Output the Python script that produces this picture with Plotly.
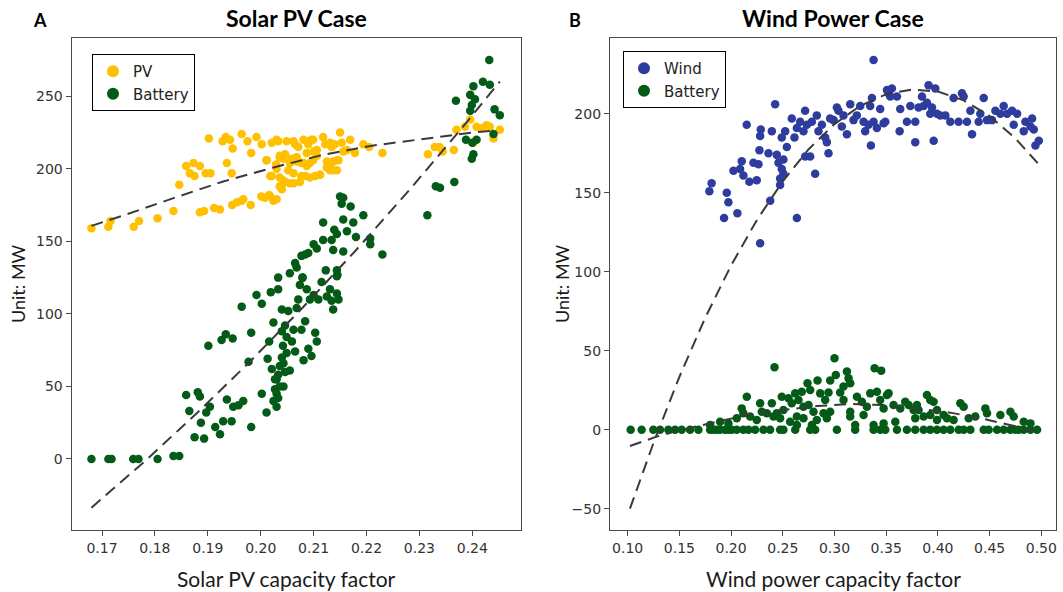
import plotly.graph_objects as go

# ---------------- Panel A: Solar PV case ----------------
pv_x = [0.1680,0.1712,0.1716,0.1760,0.1770,0.1805,0.1835,0.1846,0.1859,0.1866,
        0.1873,0.1875,0.1885,0.1885,0.1893,0.1896,0.1905,0.1902,0.1912,0.1923,
        0.1928,0.1934,0.1936,0.1942,0.1945,0.1946,0.1947,0.1955,0.1964,0.1964,
        0.1967,0.1975,0.1981,0.1982,0.1992,0.2001,0.2002,0.2008,0.2011,0.2016,
        0.2021,0.2018,0.2024,0.2029,0.2033,0.2036,0.2036,0.2040,0.2043,0.2046,
        0.2049,0.2052,0.2055,0.2059,0.2062,0.2065,0.2068,0.2071,0.2074,0.2077,
        0.2081,0.2084,0.2087,0.2090,0.2093,0.2096,0.2100,0.2103,0.2106,0.2112,
        0.2118,0.2122,0.2125,0.2128,0.2131,0.2134,0.2137,0.2140,0.2144,0.2147,
        0.2150,0.2153,0.2156,0.2163,0.2169,0.2178,0.2194,0.2205,0.2230,0.2316,
        0.2329,0.2338,0.2344,0.2365,0.2370,0.2386,0.2396,0.2402,0.2408,0.2418,
        0.2427,0.2433,0.2440,0.2452,
        0.2011,0.2021,0.2030,0.2036,0.2043,0.2046,0.2055,0.2062,0.2068,0.2077,
        0.2081,0.2087,0.2093,0.2099,0.2106,0.2112,0.2125,0.2131,0.2137,0.2144,
        0.2030,0.2062,0.2087,0.2099,0.2131,0.2018,0.2030,0.2036,0.2046]
pv_y = [159,160,164,160,164,166,171,189,202,197,
        204,195,202,170,171,197,197,221,173,172,
        219,222,204,220,197,175,214,177,178,224,
        179,219,175,211,222,181,217,180,206,182,
        218,195,178,203,219,209,194,186,207,191,
        219,199,190,207,197,217,205,215,191,204,
        220,195,211,217,204,220,212,195,209,196,
        222,217,201,203,199,215,205,217,199,206,
        225,218,212,213,220,211,217,215,211,210,
        215,215,212,213,227,229,234,218,229,228,
        230,229,221,227,
        206,195,200,208,192,210,204,190,208,195,
        204,202,194,206,213,196,205,202,199,206,
        220,219,219,220,218,181,179,188,191]

bat_a_x = [0.2432,0.2420,0.2433,0.2402,0.2396,0.2405,0.2369,0.2399,0.2396,0.2442,
           0.2452,0.2388,0.2408,0.2400,0.2402,0.2399,0.2440,0.2366,0.2331,0.2339,
           0.2315,0.2207,0.2207,0.2230,0.2150,0.2156,0.2153,0.2170,0.2194,0.2156,
           0.2175,0.2118,0.2163,0.2139,0.2144,0.2180,0.2134,0.2118,0.2100,0.2084,
           0.2077,0.2065,0.2090,0.2106,0.2137,0.2156,0.2123,0.2144,0.2144,0.2079,
           0.2033,0.2055,0.2068,
           0.1680,0.1712,0.1718,0.1759,0.1769,0.1805,0.1835,0.1846,0.1859,0.1865,
           0.1875,0.1881,0.1885,0.1887,0.1893,0.1901,0.1897,0.1904,0.1914,0.1923,
           0.1926,0.1929,0.1934,0.1936,0.1945,0.1947,0.1948,0.1958,0.1967,0.1964,
           0.1977,0.1982,0.1982,0.1992,0.2002,0.2002,0.2011,0.2013,0.2016,0.2019,
           0.2021,0.2024,0.2027,0.2030,0.2030,0.2033,0.2033,0.2036,0.2040,0.2042,
           0.2043,0.2046,0.2049,0.2052,0.2055,0.2059,0.2062,0.2065,0.2068,0.2071,
           0.2074,0.2077,0.2079,0.2081,0.2084,0.2087,0.2090,0.2093,0.2096,0.2100,
           0.2103,0.2106,0.2109,0.2115,0.2125,0.2131,0.2134,0.2137,0.2144,0.2145,
           0.2147,
           0.2030,0.2033,0.2036,0.2040,0.2027,0.2024,0.2040,0.2046,0.2049,0.2043]
bat_a_y = [275,260,258,257,251,248,247,244,240,241,
           237,220,220,218,210,207,224,191,188,187,
           168,152,148,141,181,180,176,174,168,165,
           163,163,157,158,155,153,151,151,148,141,
           140,135,142,145,144,143,130,130,126,125,
           125,128,132,
           0,0,0,0,0,0,2,2,44,33,
           15,46,43,25,14,78,32,36,22,17,
           82,26,86,41,26,83,36,37,40,105,
           67,87,22,113,107,45,32,69,81,115,
           62,94,55,45,36,117,42,50,103,78,
           66,60,84,102,61,81,89,74,104,110,
           120,89,125,68,95,117,76,110,71,113,
           87,81,110,122,112,117,109,103,114,127,
           110,
           55,58,64,70,48,40,88,92,73,50]

pv_fit_x = [0.1680,0.1740,0.1835,0.1929,0.2024,0.2118,0.2213,0.2307,0.2402,0.2446]
pv_fit_y = [160.7,167.8,179.8,191.3,200.9,209.7,216.1,220.5,225.1,226.4]
bat_a_fit_x = [0.168,0.178,0.188,0.198,0.208,0.218,0.228,0.238,0.2452]
bat_a_fit_y = [-33.6,-1.9,31.8,67.2,104.6,143.9,185.0,228.0,260.2]

# ---------------- Panel B: Wind power case ----------------
wind_x = [0.1812,0.1790,0.1958,0.1974,0.1932,0.2061,0.2281,0.2151,0.2378,0.2636,
          0.2426,0.2023,0.2103,0.2087,0.2119,0.2177,0.2216,0.2248,0.2265,0.2274,
          0.2287,0.2281,0.2362,0.2394,0.2442,0.2458,0.2474,0.2490,0.2474,0.2506,
          0.2523,0.2490,0.2539,0.2506,0.2587,0.2613,0.2636,0.2668,0.2700,0.2716,
          0.2716,0.2733,0.2765,0.2781,0.2813,0.2829,0.2845,0.2878,0.2910,0.2942,
          0.2926,0.2958,0.2991,0.3023,0.3039,0.3071,0.3087,0.3120,0.3152,0.3184,
          0.3216,0.3249,0.3281,0.3297,0.3329,0.3345,0.3362,0.3352,0.3378,0.3410,
          0.3442,0.3475,0.3491,0.3523,0.3539,0.3604,0.3636,0.3630,0.3700,0.3733,
          0.3781,0.3781,0.3813,0.3846,0.3862,0.3894,0.3910,0.3926,0.3943,0.3959,
          0.3975,0.3991,0.4023,0.4072,0.4120,0.4152,0.4200,0.4233,0.4249,0.4281,
          0.4314,0.4330,0.4394,0.4410,0.4443,0.4475,0.4523,0.4556,0.4604,0.4636,
          0.4669,0.4717,0.4733,0.4766,0.4830,0.4846,0.4895,0.4911,0.4927,0.4943,
          0.4976,0.3378,0.3555,0.3507]
wind_y = [156,151,150,144,134,137,118,193,145,134,
          206,164,170,165,161,157,169,158,168,177,
          190,186,175,189,174,169,159,165,155,171,
          189,185,179,162,197,185,191,195,189,202,
          173,193,173,195,162,199,189,193,185,175,
          182,197,196,204,202,192,199,187,206,196,
          199,205,195,189,193,205,210,180,195,191,
          203,194,195,213,211,211,203,189,195,205,
          195,182,204,211,205,207,218,200,204,183,
          216,200,199,199,195,210,195,213,211,195,
          202,187,195,200,210,196,196,202,200,205,
          200,202,193,200,189,195,192,197,190,180,
          183,234,216,215]

bat_b_x = [0.1029,0.1135,0.1248,0.1313,0.1393,0.1458,0.1522,0.1603,0.1684,0.1797,
           0.1829,0.1861,0.1894,0.1942,0.1974,0.2006,0.2055,0.2119,0.2168,0.2232,
           0.2313,0.2377,0.2474,0.2506,0.2620,0.2765,0.2813,0.3023,0.3200,0.3378,
           0.3442,0.3491,0.3604,0.3700,0.3781,0.3862,0.3926,0.3991,0.4055,0.4120,
           0.4201,0.4249,0.4314,0.4443,0.4491,0.4572,0.4636,0.4701,0.4749,0.4781,
           0.4830,0.4895,0.4959,
           0.2420,0.3000,0.3120,0.3388,0.3452,0.3013,0.2958,0.2739,0.2836,0.2765,
           0.3136,0.3087,0.3152,0.2620,0.2684,0.2862,0.2942,0.3055,0.2152,0.2281,
           0.2394,0.2490,0.2555,0.2587,0.2652,0.2700,0.2749,0.2797,0.2894,0.2506,
           0.2442,0.2345,0.2410,0.2474,0.2119,0.2103,0.2055,0.2184,0.2248,0.1974,
           0.1894,0.1797,0.2297,0.2571,0.2636,0.2700,0.2829,0.2958,0.3087,0.3152,
           0.3217,0.3265,0.3313,0.3346,0.3410,0.3442,0.3507,0.3523,0.3475,0.3571,
           0.3636,0.3684,0.3717,0.3765,0.3781,0.3797,0.3894,0.3926,0.3958,0.3991,
           0.4055,0.4088,0.4217,0.4249,0.4298,0.4362,0.4459,0.4475,0.4604,0.4701,
           0.4733,0.4830,0.4895,0.3200,0.3378,0.3475,0.3588,0.3813,0.3862,0.3926,
           0.3991,0.4152,0.3152,0.3281,0.2926,0.2910,0.2781,0.2636]
bat_b_y = [0,0,0,0,0,0,0,0,0,0,
           0,0,0,0,0,0,0,0,0,0,
           0,0,0,0,0,0,0,0,0,0,
           0,0,0,0,0,0,0,0,0,0,
           0,0,0,0,0,0,0,0,0,0,
           0,0,0,
           39.5,45.2,36.8,38.9,37.4,34.7,31.1,29.4,31.1,25.1,
           32.5,27.3,29.4,23.0,24.1,23.0,23.5,23.5,20.9,16.7,
           16.7,20.9,19.9,16.7,18.8,14.6,15.7,11.4,10.4,12.5,
           10.4,10.4,8.3,7.2,10.4,13.5,7.2,8.3,6.1,4.0,
           5.1,3.0,11.4,5.1,8.3,7.2,6.1,11.4,18.8,11.4,
           20.9,17.7,14.6,23.0,24.1,18.8,22.0,23.0,13.5,15.7,
           13.5,17.7,15.7,12.5,7.2,15.7,22.0,18.8,17.7,12.5,
           9.3,7.2,16.7,14.6,7.2,8.3,13.5,10.4,9.3,11.4,
           8.3,5.1,4.0,3.0,3.0,4.0,5.1,12.5,8.3,9.3,
           6.1,6.1,8.3,9.3,7.2,18.8,3.0,3.0]

wind_fit_x = [0.1022,0.125,0.15,0.175,0.2,0.225,0.25,0.275,0.3,0.325,0.35,0.375,0.4,0.425,0.45,0.475,0.4975]
wind_fit_y = [-50.0,-8.3,33.5,70.9,104.0,132.8,157.3,177.6,193.5,205.1,212.4,215.4,214.1,208.5,198.6,184.4,168.0]
bat_b_fit_x = [0.1022,0.128,0.1474,0.1765,0.2152,0.2506,0.2830,0.3152,0.3474,0.3798,0.4120,0.4442,0.4766,0.4959]
bat_b_fit_y = [-10.3,-4.4,-0.8,3.6,9.3,12.5,15.0,16.3,15.6,13.5,10.8,6.8,1.9,-1.6]

# ---------------- Styling ----------------
C_PV = "#FFC000"
C_BAT = "#035B17"
C_WIND = "#2E3C9E"
C_FIT = "#3a3a3a"
MS = 8.5
W, H = 1063, 592

fig = go.Figure()

def scatter(x, y, name, color, xa, ya, legend):
    fig.add_trace(go.Scatter(x=x, y=y, mode="markers", name=name, xaxis=xa, yaxis=ya,
                             legend=legend,
                             marker=dict(size=MS, color=color, line=dict(width=0))))

def fit(x, y, xa, ya):
    fig.add_trace(go.Scatter(x=x, y=y, mode="lines", xaxis=xa, yaxis=ya, showlegend=False,
                             line=dict(color=C_FIT, width=2, dash="12px,7px"),
                             hoverinfo="skip"))

scatter(pv_x, pv_y, "PV", C_PV, "x", "y", "legend")
scatter(bat_a_x, bat_a_y, "Battery", C_BAT, "x", "y", "legend")
fit(pv_fit_x, pv_fit_y, "x", "y")
fit(bat_a_fit_x, bat_a_fit_y, "x", "y")

scatter(wind_x, wind_y, "Wind", C_WIND, "x2", "y2", "legend2")
scatter(bat_b_x, bat_b_y, "Battery", C_BAT, "x2", "y2", "legend2")
fit(wind_fit_x, wind_fit_y, "x2", "y2")
fit(bat_b_fit_x, bat_b_fit_y, "x2", "y2")

tickfont = dict(family="DejaVu Sans", size=14, color="#333333")
axis_common = dict(showline=True, mirror=True, linecolor="#4a4a4a", linewidth=1.3,
                   ticks="outside", ticklen=5, tickwidth=1.2, tickcolor="#4a4a4a",
                   showgrid=False, zeroline=False, tickfont=tickfont)

ybot = (H - 530) / H
ytop = (H - 38.3) / H

legend_style = dict(xanchor="left", yanchor="top", bgcolor="white",
                    bordercolor="black", borderwidth=1,
                    font=dict(family="DejaVu Sans", size=15, color="#222222"),
                    itemsizing="constant", tracegroupgap=0)

fig.update_layout(
    width=W, height=H,
    margin=dict(l=0, r=0, t=0, b=0),
    paper_bgcolor="white", plot_bgcolor="white",
    xaxis=dict(domain=[71.7 / W, 521 / W], range=[0.16427, 0.2492],
               tickvals=[0.17, 0.18, 0.19, 0.20, 0.21, 0.22, 0.23, 0.24], tickformat=".2f",
               anchor="y", **axis_common),
    yaxis=dict(domain=[ybot, ytop], range=[-49, 290],
               tickvals=[0, 50, 100, 150, 200, 250], anchor="x", **axis_common),
    xaxis2=dict(domain=[610 / W, 1056 / W], range=[0.0829, 0.5142],
                tickvals=[0.10, 0.15, 0.20, 0.25, 0.30, 0.35, 0.40, 0.45, 0.50], tickformat=".2f",
                anchor="y2", **axis_common),
    yaxis2=dict(domain=[ybot, ytop], range=[-63.5, 247.8],
                tickvals=[-50, 0, 50, 100, 150, 200], anchor="x2", **axis_common),
    legend=dict(x=92 / W, y=(H - 54) / H, **legend_style),
    legend2=dict(x=623 / W, y=(H - 51) / H, **legend_style),
    showlegend=True,
)

title_font = dict(family="Lato", size=23, color="black")
label_font = dict(family="Lato", size=21, color="#1a1a1a")
ylabel_font = dict(family="Lato", size=18, color="#1a1a1a")
panel_font = dict(family="Lato", size=18, color="black")

annotations = [
    dict(text="<b>Solar PV Case</b>", x=296.4 / W, y=(H - 18) / H, font=title_font),
    dict(text="<b>Wind Power Case</b>", x=833 / W, y=(H - 18) / H, font=title_font),
    dict(text="<b>A</b>", x=40 / W, y=(H - 20) / H, font=panel_font),
    dict(text="<b>B</b>", x=575 / W, y=(H - 20) / H, font=panel_font),
    dict(text="Solar PV capacity factor", x=286 / W, y=(H - 578) / H, font=label_font),
    dict(text="Wind power capacity factor", x=833 / W, y=(H - 578) / H, font=label_font),
    dict(text="Unit: MW", x=18 / W, y=(H - 284) / H, font=ylabel_font, textangle=-90),
    dict(text="Unit: MW", x=562 / W, y=(H - 284) / H, font=ylabel_font, textangle=-90),
]
for a in annotations:
    a.update(xref="paper", yref="paper", showarrow=False, xanchor="center", yanchor="middle")
fig.update_layout(annotations=annotations)

fig.write_html("out.html")
